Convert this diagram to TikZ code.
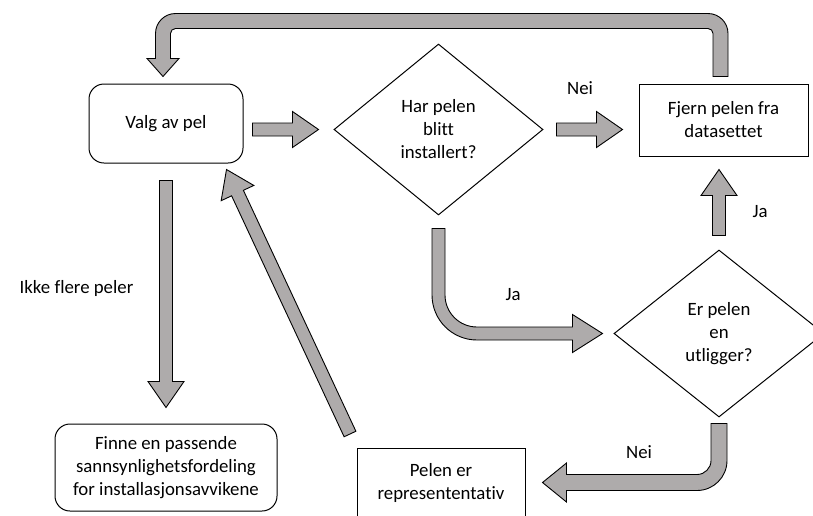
\documentclass[tikz,border=0pt]{standalone}
\usepackage{fontspec}
\setmainfont{Carlito}[Ligatures=NoCommon]
\usetikzlibrary{shapes.geometric, calc}
\definecolor{arrow-grey}{HTML}{AEABAB}

% straight block arrow from tail #2 to tip #3
\def\shafthw{6.5pt}
\def\headhw{18pt}
\def\headlen{26pt}
\newcommand{\blockarrow}[3][]{%
  \coordinate (ba-base) at ($(#3)!\headlen!(#2)$);
  \draw[blockarrow, #1] ($(#2)!\shafthw!90:(#3)$) -- ($(ba-base)!\shafthw!90:(#3)$)
    -- ($(ba-base)!\headhw!90:(#3)$) -- (#3) -- ($(ba-base)!\headhw!-90:(#3)$)
    -- ($(ba-base)!\shafthw!-90:(#3)$) -- ($(#2)!\shafthw!-90:(#3)$) -- cycle;}

\begin{document}
\begin{tikzpicture}[x=1pt, y=-1pt,
    every node/.style={font=\fontsize{18.8}{23}\selectfont, align=center, inner sep=0pt},
    roundbox/.style={draw, line width=1pt, rounded corners=15pt},
    plainbox/.style={draw, line width=1pt},
    decision/.style={draw, diamond, line width=1pt},
    blockarrow/.style={draw, fill=arrow-grey, line width=0.9pt, line join=miter}]
  \useasboundingbox (0,0) rectangle (813,515);

  \node[roundbox, minimum width=154, minimum height=79] (valg) at (166,123.5) {Valg av pel};
  \node[decision, minimum width=209, minimum height=171] (harpel) at (438.5,129.5)
    {Har pelen\\blitt\\installert?};
  \node[plainbox, minimum width=169, minimum height=72] (fjern) at (723.5,120)
    {Fjern pelen fra\\datasettet};
  \node[decision, minimum width=210, minimum height=167] (erpel) at (719,333.5)
    {Er pelen\\en\\utligger?};
  \node[plainbox, minimum width=168, minimum height=69] (pelen) at (441,482.5)
    {Pelen er\\represententativ};
  \node[roundbox, minimum width=222, minimum height=87] (finne) at (166,467.5)
    {Finne en passende\\sannsynlighetsfordeling\\for installasjonsavvikene};

  % straight arrows
  \coordinate (a1-s) at ($(valg.east |- harpel.west)+(9,0)$);
  \coordinate (a1-e) at ($(harpel.west)+(-15,0)$);
  \blockarrow{a1-s}{a1-e}
  \coordinate (a2-s) at ($(harpel.east)+(13,0)$);
  \coordinate (a2-e) at ($(fjern.west |- harpel.east)+(-16,0)$);
  \blockarrow{a2-s}{a2-e}
  \coordinate (a3-s) at ($(erpel.north)+(0,-14)$);
  \coordinate (a3-e) at ($(fjern.south -| erpel.north)+(0,13)$);
  \blockarrow{a3-s}{a3-e}
  \coordinate (a4-s) at ($(valg.south)+(0,17)$);
  \coordinate (a4-e) at ($(finne.north)+(0,-16)$);
  \blockarrow{a4-s}{a4-e}
  \coordinate (a5-s) at ($(pelen.north west)+(-6.5,-13.5)$);
  \coordinate (a5-e) at ($(valg.south east)+(-17,6)$);
  \blockarrow{a5-s}{a5-e}

  % Ja: bent down and right
  \coordinate (ja-s) at ($(harpel.south)+(0,13)$);
  \coordinate (ja-e) at ($(erpel.west)+(-11,0)$);
  \draw[blockarrow] ($(ja-s)+(-6.5,0)$) -- ($(ja-s |- ja-e)+(-6.5,-38.5)$)
    arc[start angle=180, end angle=90, radius=45]
    -- ($(ja-e)+(-30,6.5)$) -- ++(0,12.5) -- (ja-e) -- ++(-30,-19) -- ++(0,12.5)
    -- ($(ja-s |- ja-e)+(38.5,-6.5)$)
    arc[start angle=90, end angle=180, radius=32] -- ($(ja-s)+(6.5,0)$) -- cycle;

  % Nei: bent down and left
  \coordinate (nei-s) at ($(erpel.south)+(0,6)$);
  \coordinate (nei-e) at ($(pelen.east)+(17,0)$);
  \draw[blockarrow] ($(nei-s)+(8,0)$) -- ($(nei-s |- nei-e)+(8,-22)$)
    arc[start angle=0, end angle=90, radius=30]
    -- ($(nei-e)+(24,8)$) -- ++(0,11.5) -- (nei-e) -- ++(24,-19.5) -- ++(0,11.5)
    -- ($(nei-s |- nei-e)+(-22,-8)$)
    arc[start angle=90, end angle=0, radius=14] -- ($(nei-s)+(-8,0)$) -- cycle;

  % back to the start, over the top
  \coordinate (top-s) at ($(fjern.north)+(-3,-7)$);
  \coordinate (top-e) at ($(valg.north)+(-3,-7)$);
  \coordinate (top-y) at ($(top-s)+(0,-55.5)$);
  \draw[blockarrow] ($(top-s)+(-7.5,0)$) -- ($(top-s)+(7.5,0)$)
    -- ($(top-s |- top-y)+(7.5,12.5)$) arc[start angle=0, end angle=-90, radius=20]
    -- ($(top-e |- top-y)+(12.5,-7.5)$) arc[start angle=270, end angle=180, radius=20]
    -- ($(top-e)+(-7.5,-18)$) -- ++(-8.5,0) -- (top-e) -- ++(16,-18) -- ++(-8.5,0)
    -- ($(top-e |- top-y)+(7.5,12.5)$) arc[start angle=180, end angle=270, radius=5]
    -- ($(top-s |- top-y)+(-12.5,7.5)$) arc[start angle=270, end angle=360, radius=5]
    -- cycle;

  \node (nei1) at (580,88) {Nei};
  \node (ikke) at (76.5,288) {Ikke flere peler};
  \node (ja1) at (513,295) {Ja};
  \node (ja2) at (760,212) {Ja};
  \node (nei2) at (639,452) {Nei};
\end{tikzpicture}
\end{document}
